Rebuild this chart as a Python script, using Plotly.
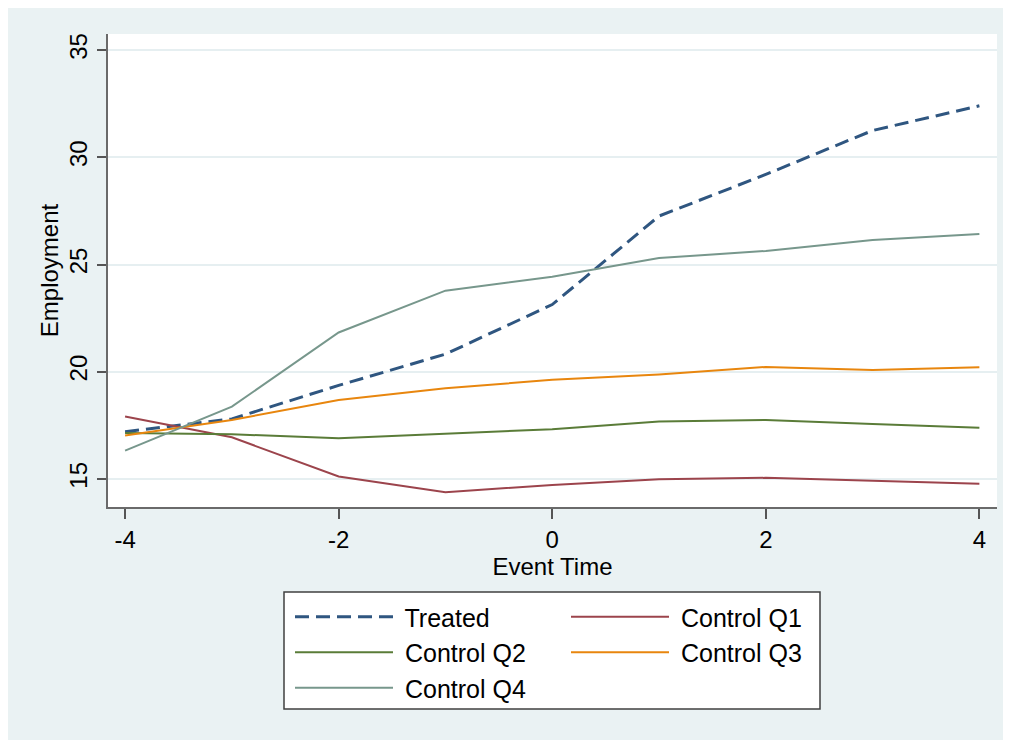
import plotly.graph_objects as go

event_time = [-4, -3, -2, -1, 0, 1, 2, 3, 4]
treated    = [17.20, 17.80, 19.36, 20.82, 23.13, 27.26, 29.20, 31.25, 32.40]
control_q1 = [17.91, 16.94, 15.11, 14.38, 14.72, 14.98, 15.05, 14.91, 14.77]
control_q2 = [17.14, 17.08, 16.90, 17.10, 17.32, 17.68, 17.75, 17.56, 17.39]
control_q3 = [17.02, 17.75, 18.68, 19.23, 19.62, 19.87, 20.22, 20.08, 20.21]
control_q4 = [16.32, 18.37, 21.83, 23.78, 24.43, 25.30, 25.63, 26.14, 26.42]

y_ticks = [15, 20, 25, 30, 35]
x_ticks = [-4, -2, 0, 2, 4]

FONT = "Liberation Sans, Arial, sans-serif"
BG = "#eaf2f3"

W, H = 1011, 740
OFF = 8  # page body margin
L, R, T, B = 108 - OFF, 997 - OFF, 34 - OFF, 507 - OFF  # plot area in figure pixels

def px(x):  # screenshot pixel -> paper
    return (x - OFF - L) / (R - L)

def py(y):
    return (B - (y - OFF)) / (B - T)

fig = go.Figure()

series = [
    ("Treated", treated, "#2f5680", 3, "14px,7px", "legend"),
    ("Control Q1", control_q1, "#9c444c", 2, "solid", "legend2"),
    ("Control Q2", control_q2, "#5a7c38", 2, "solid", "legend"),
    ("Control Q3", control_q3, "#e8860e", 2, "solid", "legend2"),
    ("Control Q4", control_q4, "#77978c", 2, "solid", "legend"),
]
for name, vals, col, w, dash, lg in series:
    fig.add_trace(go.Scatter(
        x=event_time, y=vals, mode="lines", name=" " + name,
        line=dict(color=col, width=w, dash=dash),
        legend=lg, legendgroup=name,
    ))

legend_common = dict(
    orientation="v", xanchor="left", yanchor="top",
    bgcolor="rgba(0,0,0,0)", borderwidth=0,
    font=dict(family=FONT, size=25, color="#000000"),
    itemwidth=98, tracegroupgap=0, traceorder="normal",
)

fig.update_layout(
    width=W, height=H,
    margin=dict(l=L, r=W - R, t=T, b=H - B, autoexpand=False),
    paper_bgcolor=BG, plot_bgcolor="white",
    font=dict(family=FONT, size=24, color="#000000"),
    showlegend=True,
    legend=dict(x=px(290), y=py(594), **legend_common),
    legend2=dict(x=px(566), y=py(594), **legend_common),
    xaxis=dict(
        range=[-4.16, 4.165], tickvals=x_ticks, ticktext=[str(v) for v in x_ticks],
        showgrid=False, zeroline=False,
        showline=True, linecolor="#6a6a6a", linewidth=2,
        ticks="outside", ticklen=10, tickwidth=2, tickcolor="#555555",
        tickfont=dict(family=FONT, size=24, color="#000000"),
        title=dict(text="Event Time", standoff=0,
                   font=dict(family=FONT, size=24, color="#000000")),
    ),
    yaxis=dict(
        range=[13.69, 35.75], tickvals=y_ticks, ticktext=[str(v) for v in y_ticks],
        tickangle=-90,
        showgrid=True, gridcolor="#e6eff1", gridwidth=2,
        zeroline=False,
        showline=True, linecolor="#6a6a6a", linewidth=2,
        ticks="outside", ticklen=9, tickwidth=2, tickcolor="#555555",
        tickfont=dict(family=FONT, size=24, color="#000000"),
        title=dict(text="Employment", standoff=0,
                   font=dict(family=FONT, size=24, color="#000000")),
    ),
    shapes=[
        # legend frame
        dict(type="rect", xref="paper", yref="paper", layer="below",
             x0=px(284), x1=px(820), y0=py(709), y1=py(592),
             fillcolor="white", line=dict(color="#404040", width=1.5)),
    ],
)

fig.write_html("out.html")
